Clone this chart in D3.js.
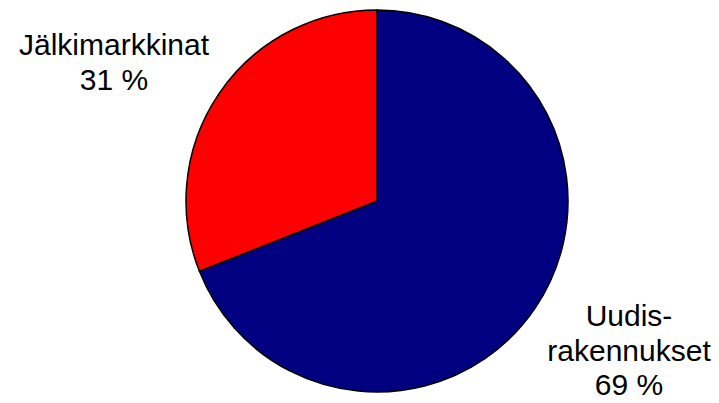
<!DOCTYPE html>
<html>
<head>
<meta charset="utf-8">
<script src="https://cdn.jsdelivr.net/npm/d3@7"></script>
<style>
	html, body { margin: 0; padding: 0; background: #fff; }
	svg { display: block; }
	text { font-family: Arial, "Liberation Sans", sans-serif; font-size: 30px; fill: #000; }
</style>
</head>
<body>
<div id="chart"></div>
<script>

let categories = ['Uudisrakennukset', 'Jälkimarkkinat']
let values = [69, 31]
let labelLines = [['Uudis-', 'rakennukset'], ['Jälkimarkkinat']]
let colors = ['#000080', '#ff0000']

let width = 719
let height = 403
let center = {x: 377, y: 201}
let radius = 191

// label anchors (middle of text block)
let labelPos = [{x: 629, y: 326}, {x: 114, y: 55}]
let lineHeight = 34.5

let svg = d3.select('#chart').append('svg')
	.attr('width', width).attr('height', height)

let pie = d3.pie().sort(null).value(d => d)
let arc = d3.arc().innerRadius(0).outerRadius(radius)

let g = svg.append('g').attr('transform', `translate(${center.x},${center.y})`)

g.selectAll('path')
	.data(pie(values))
	.enter().append('path')
	.attr('d', arc)
	.attr('fill', (d, i) => colors[i])
	.attr('stroke', '#000')
	.attr('stroke-width', 1.5)
	.attr('stroke-linejoin', 'round')

let total = d3.sum(values)

let labels = svg.selectAll('text.label')
	.data(categories)
	.enter().append('text')
	.attr('class', 'label')
	.attr('text-anchor', 'middle')

labels.each(function(d, i) {
	let t = d3.select(this)
	let lines = labelLines[i].concat([Math.round(values[i] / total * 100) + ' %'])
	lines.forEach((line, j) => {
		t.append('tspan')
			.attr('x', labelPos[i].x)
			.attr('y', labelPos[i].y + j * lineHeight)
			.text(line)
	})
})

</script>
</body>
</html>
